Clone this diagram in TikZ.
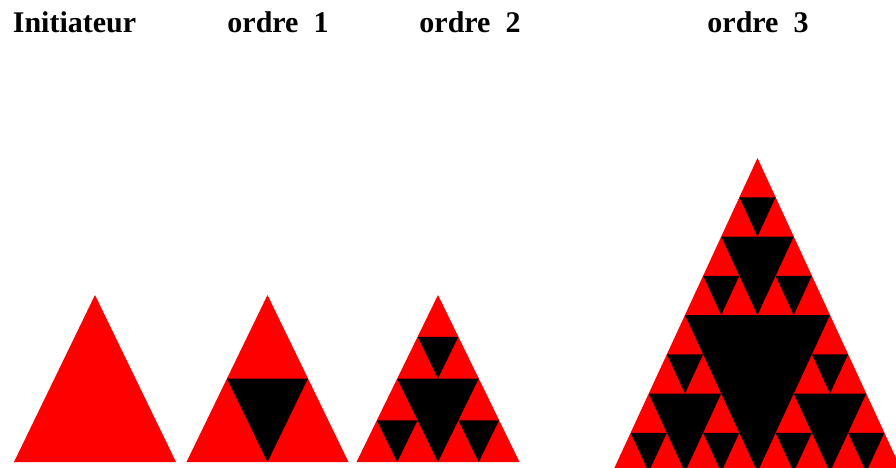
\documentclass[tikz,border=0pt]{standalone}
\usepackage{fontspec}
\setmainfont{Liberation Serif}
\usepackage{tikz}
\usepackage{xcolor}

\tikzset{
  plein/.style={fill=red},
  trou/.style={fill=black},
  titre/.style={font=\bfseries\fontsize{30}{31}\selectfont, anchor=base}
}

% black holes of a unit triangle (-1,0) (1,0) (0,1)
\newcommand\trous[1]{%
  \ifnum#1>0
    \fill[trou] (-0.5,0.5) -- (0.5,0.5) -- (0,0) -- cycle;
    \foreach \sx/\sy in {0/0.5,-0.5/0,0.5/0}{%
      \begin{scope}[shift={(\sx,\sy)},scale=0.5]
        \trous{\numexpr#1-1\relax}
      \end{scope}}%
  \fi}

% base centre x, y, half width, height, order
\newcommand\sierpinski[5]{%
  \begin{scope}[shift={(#1,#2)},xscale=#3,yscale=#4]
    \fill[plein] (-1,0) -- (1,0) -- (0,1) -- cycle;
    \trous{#5}
  \end{scope}}

\begin{document}
\begin{tikzpicture}[x=1pt,y=1pt]
  \useasboundingbox (0,0) rectangle (896,467);
  \clip (0,0) rectangle (896,467);

  \node[titre] (init) at (74.5,434) {Initiateur};
  \node[titre] (ord1) at (278,434) {ordre\ \ 1};
  \node[titre] (ord2) at (470,434) {ordre\ \ 2};
  \node[titre] (ord3) at (758,434) {ordre\ \ 3};

  \sierpinski{95}{5}{81}{167}{0}
  \sierpinski{267.5}{5}{81}{167}{1}
  \sierpinski{438}{5}{81.5}{167}{2}
  \sierpinski{757.5}{-5}{145}{314}{3}
\end{tikzpicture}
\end{document}
